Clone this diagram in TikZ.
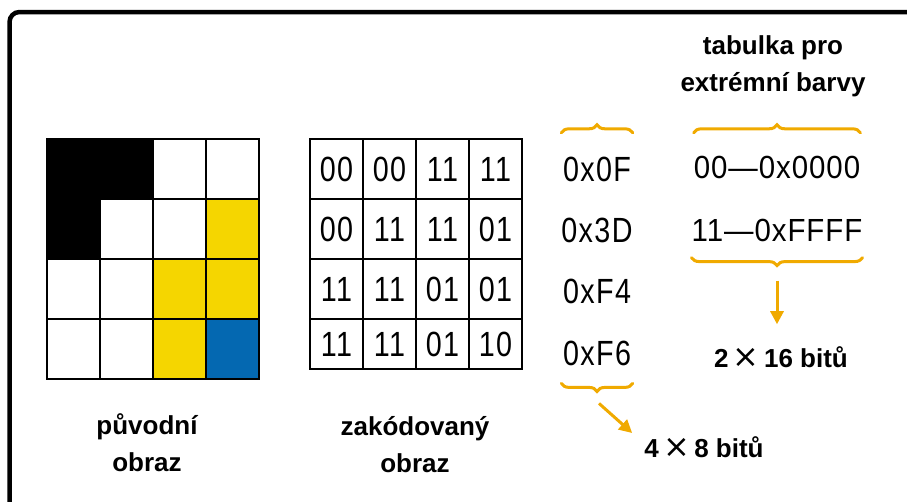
\documentclass[tikz,border=0pt]{standalone}
\usepackage{fontspec}
\setmainfont{Liberation Sans}
\newfontfamily\narrowfont{Liberation Sans}[FakeStretch=0.82,LetterSpace=4]
\newfontfamily\tablefont{Liberation Sans}[FakeStretch=0.92,LetterSpace=3]
\newfontfamily\symfont{DejaVu Sans}
\newcommand{\bigtimes}{{\symfont\mdseries\fontsize{32}{32}\selectfont ×}}
\definecolor{myorange}{RGB}{240,170,0}
\definecolor{myyellow}{RGB}{245,214,0}
\definecolor{myblue}{RGB}{4,104,177}
\usetikzlibrary{positioning,chains,decorations.pathreplacing,arrows.meta}

\begin{document}
\begin{tikzpicture}[x=1pt,y=-1pt,
    every node/.style={inner sep=0pt},
    pixel/.style={draw,line width=1.2pt,minimum width=53pt,minimum height=60pt},
    codecell/.style={draw,line width=1.2pt,minimum width=53pt,font=\narrowfont\fontsize{35}{40}\selectfont},
    hexnode/.style={minimum width=71pt,minimum height=40pt,font=\narrowfont\fontsize{35}{40}\selectfont},
    tabnode/.style={minimum width=163pt,minimum height=40pt,font=\tablefont\fontsize{32}{40}\selectfont},
    labeltext/.style={align=center,font=\bfseries\fontsize{26}{37}\selectfont},
    curly/.style={myorange,line width=3pt,line cap=round,decorate,decoration={brace,amplitude=8pt}},
    arrowline/.style={myorange,line width=3pt,-{Triangle[length=13pt,width=13pt]}}
    ]
    \useasboundingbox (0,0) rectangle (907,501);
    \clip (0,0) rectangle (907,501);

    % the frame
    \draw[line width=4.5pt,rounded corners=10pt] (9.5,12) rectangle (940,540);

    % the original picture
    \foreach \row [count=\r] in {{black,black,white,white},{black,white,white,myyellow},
        {white,white,myyellow,myyellow},{white,white,myyellow,myblue}}
    \foreach \col [count=\c] in \row
    \node[pixel,fill=\col] (p\r\c) at ({73.5+53*(\c-1)},{169+60*(\r-1)}) {};

    % the encoded picture
    \foreach \row/\y/\h [count=\r] in {{00,00,11,11}/169/60,{00,11,11,01}/229/60,
        {11,11,01,01}/289/60,{11,11,01,10}/344/50}
    \foreach \val [count=\c] in \row
    \node[codecell,minimum height=\h pt] (k\r\c) at ({336.5+53*(\c-1)},\y) {\val};

    % the bytes
    \begin{scope}[shift={(597,169)},start chain=going below,node distance=21pt]
    \foreach \hx [count=\i] in {0x0F,0x3D,0xF4,0xF6}
    \node[hexnode,on chain] (h\i) {\hx};
    \end{scope}

    % the colour table
    \node[tabnode] (t1) at (777,167) {00—0x0000};
    \node[tabnode,below=23pt of t1] (t2) {11—0xFFFF};

    % the captions
    \node[labeltext] (orig) at (147,443) {původní\\obraz};
    \node[labeltext] (enc) at (415,445) {zakódovaný\\obraz};
    \node[labeltext] (tab) at (773,66) {tabulka pro\\extrémní barvy};
    \node[labeltext] (bits16) at (781,357) {2\,\bigtimes\,16 bitů};
    \node[labeltext] (bits8) at (704,447) {4\,\bigtimes\,8 bitů};

    % the braces
    \draw[curly] ([yshift=16pt]h1.north west) -- ([yshift=16pt]h1.north east);
    \draw[curly] ([yshift=14pt]t1.north west) -- ([yshift=14pt]t1.north east);
    \draw[curly] ([yshift=-7pt]t2.south east) -- ([yshift=-7pt]t2.south west);
    \draw[curly] ([yshift=-10pt]h4.south east) -- ([yshift=-10pt]h4.south west);

    % the arrows
    \draw[arrowline] ([yshift=-30pt]t2.south) -- ([yshift=22pt]t2.south |- bits16.north);
    \draw[arrowline] ([xshift=2pt,yshift=-30pt]h4.south) -- ([xshift=-12pt,yshift=14pt]bits8.west);
\end{tikzpicture}
\end{document}
